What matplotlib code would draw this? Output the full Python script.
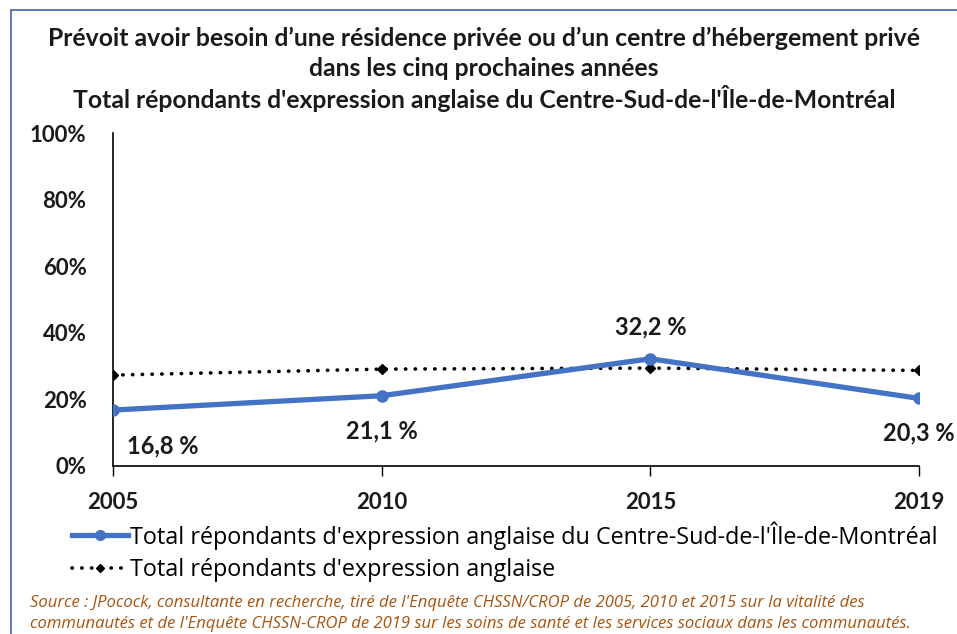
import matplotlib
matplotlib.use("Agg")
import matplotlib.pyplot as plt
from matplotlib.patches import Rectangle
from matplotlib.lines import Line2D

years = ["2005", "2010", "2015", "2019"]
centre_sud = [16.8, 21.1, 32.2, 20.3]
total_anglo = [27.3, 29.1, 29.4, 28.7]
y_ticks = [0, 20, 40, 60, 80, 100]
y_tick_labels = ["0%", "20%", "40%", "60%", "80%", "100%"]
value_labels = ["16,8 %", "21,1 %", "32,2 %", "20,3 %"]

title_lines = [
    "Prévoit avoir besoin d\u2019une résidence privée ou d\u2019un centre d\u2019hébergement privé",
    "dans les cinq prochaines années",
    "Total répondants d'expression anglaise du Centre-Sud-de-l'Île-de-Montréal",
]
legend_labels = [
    "Total répondants d'expression anglaise du Centre-Sud-de-l'Île-de-Montréal",
    "Total répondants d'expression anglaise",
]
source_lines = [
    "Source : JPocock, consultante en recherche, tiré de l'Enquête CHSSN/CROP de 2005, 2010 et 2015 sur la vitalité des",
    "communautés et de l'Enquête CHSSN-CROP de 2019 sur les soins de santé et les services sociaux dans les communautés.",
]

BLUE = "#4472C4"
TXT = "#1a1a1a"
FONT = "Lato"
DOTS = (0, (0.1, 2.6))

fig = plt.figure(figsize=(9.57, 6.34), dpi=100)
W, H = 957, 634

def fx(px):
    return px / W

def fy(py):
    return 1 - py / H

# outer frame
fig.patches.append(Rectangle((fx(11), fy(700)), fx(1000), fy(10) - fy(700),
                             transform=fig.transFigure, fill=False,
                             edgecolor="#4F6FA8", linewidth=1.3))

# title
for i, line in enumerate(title_lines):
    fig.text(fx(484), fy(38 + 30 * i), line, ha="center", va="center",
             fontsize=17.8, fontweight="bold", color=TXT, family=FONT)

ax = fig.add_axes([fx(113), fy(466), fx(919) - fx(113), fy(133) - fy(466)])
x = list(range(len(years)))

ax.plot(x, total_anglo, color="black", linestyle=DOTS, linewidth=2.6,
        dash_capstyle="round", marker="D", markersize=5, markerfacecolor="black",
        markeredgecolor="black", zorder=2)
ax.plot(x, centre_sud, color=BLUE, linewidth=3.8, marker="o", markersize=8,
        markerfacecolor=BLUE, markeredgecolor=BLUE, zorder=3)

offsets = [(36, -26), (0, -25), (0, 23), (0, -25)]
for xi, v, lab, off in zip(x, centre_sud, value_labels, offsets):
    ax.annotate(lab, (xi, v), xytext=off, textcoords="offset points",
                ha="center", va="center", fontsize=17, fontweight="bold",
                color=TXT, family=FONT, annotation_clip=False)

ax.set_xlim(0, 3)
ax.set_ylim(0, 100)
ax.tick_params(axis="y", length=0, pad=19)
ax.tick_params(axis="x", direction="out", length=7, width=1, pad=12)
ax.set_yticks(y_ticks)
ax.set_yticklabels(y_tick_labels, fontweight="bold", fontsize=16,
                   family=FONT, color=TXT)
ax.set_xticks(x)
ax.set_xticklabels(years, fontweight="bold", fontsize=16,
                   family=FONT, color=TXT)
for s in ["top", "right"]:
    ax.spines[s].set_visible(False)
ax.spines["left"].set_linewidth(1.2)
ax.spines["bottom"].set_linewidth(1.2)
ax.set_facecolor("none")

handles = [
    Line2D([0], [0], color=BLUE, linewidth=3.8, marker="o", markersize=7,
           markerfacecolor=BLUE, markeredgecolor=BLUE),
    Line2D([0], [0], color="black", linestyle=DOTS, linewidth=2.6,
           dash_capstyle="round", marker="D", markersize=4.5),
]
fig.legend(handles, legend_labels, loc="upper left",
           bbox_to_anchor=(fx(72), fy(521)), frameon=False,
           prop={"family": "Open Sans", "size": 16.8}, handlelength=2.4,
           handletextpad=0.1, labelspacing=0.35, borderaxespad=0,
           borderpad=0)

for i, line in enumerate(source_lines):
    fig.text(fx(30), fy(603 + 21 * i), line, ha="left", va="center",
             fontsize=12.0, style="italic", color="#A8540F", family="Open Sans")

fig.savefig("out.png", dpi=100)
